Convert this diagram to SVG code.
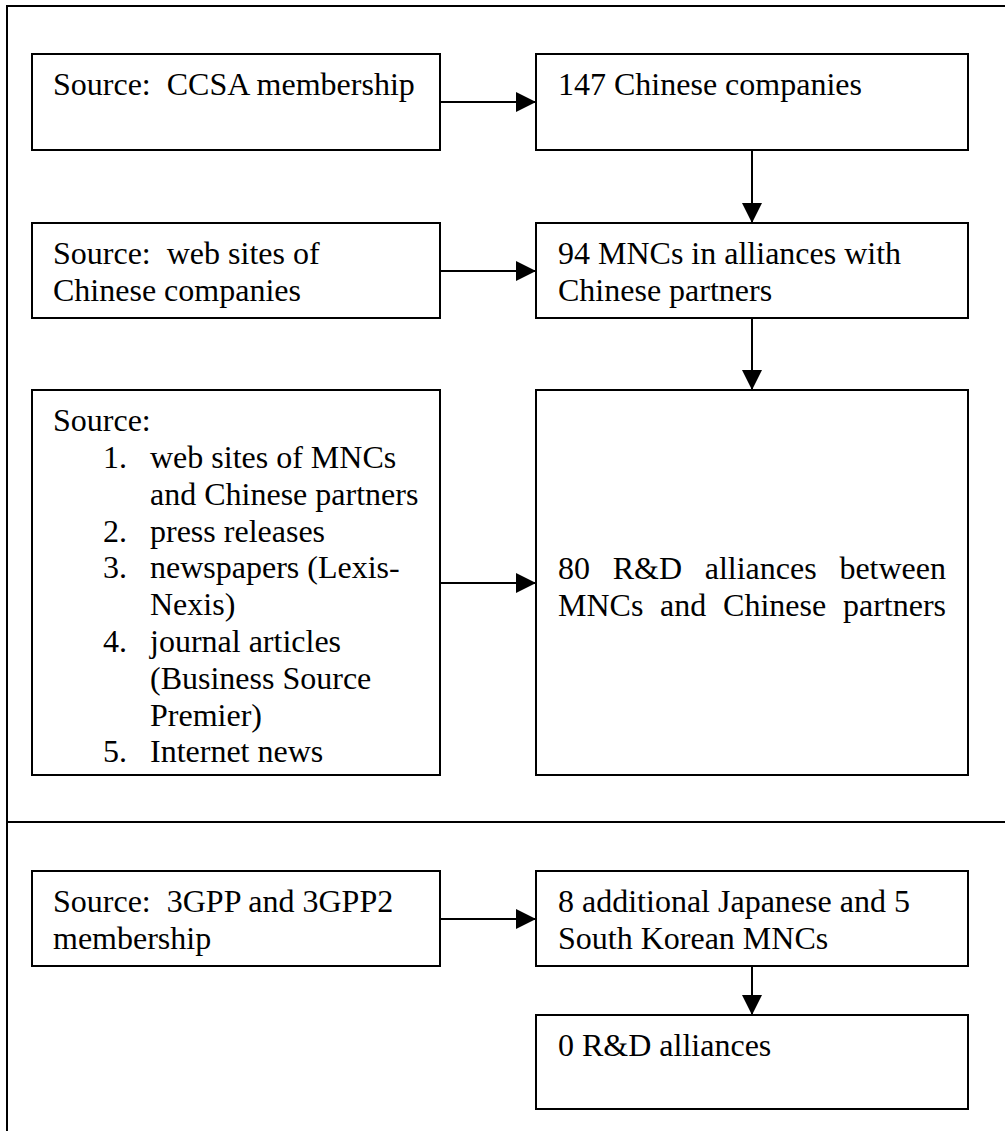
<svg xmlns="http://www.w3.org/2000/svg" width="1005" height="1131" viewBox="0 0 1005 1131">
<style>
.box{fill:#fff;stroke:#000;stroke-width:2}
.frame{fill:none;stroke:#000;stroke-width:2}
.con{stroke:#000;stroke-width:2;fill:none}
text{font-family:"Liberation Serif","Times New Roman",serif;font-size:32px;fill:#000;white-space:pre}
.end{text-anchor:end}
</style>
<defs>
<marker id="ah" markerWidth="20" markerHeight="20" viewBox="0 0 20 20" refX="20" refY="10" orient="auto" markerUnits="userSpaceOnUse">
<path d="M0,0 L20,10 L0,20 Z" fill="#000"/>
</marker>
</defs>
<rect width="1005" height="1131" fill="#fff"/>
<g id="frame">
<path class="frame" d="M7,1131 V6 H1005"/>
<path class="frame" d="M7,822 H1005"/>
</g>
<g id="connectors">
<line class="con" x1="440" y1="102" x2="536" y2="102" marker-end="url(#ah)"/>
<line class="con" x1="440" y1="271" x2="536" y2="271" marker-end="url(#ah)"/>
<line class="con" x1="440" y1="583" x2="536" y2="583" marker-end="url(#ah)"/>
<line class="con" x1="440" y1="919" x2="536" y2="919" marker-end="url(#ah)"/>
<line class="con" x1="752" y1="150" x2="752" y2="223" marker-end="url(#ah)"/>
<line class="con" x1="752" y1="318" x2="752" y2="390" marker-end="url(#ah)"/>
<line class="con" x1="752" y1="966" x2="752" y2="1015" marker-end="url(#ah)"/>
</g>
<g id="src-ccsa">
<rect class="box" x="32" y="54" width="408" height="96"/>
<text x="53" y="95">Source:  CCSA membership</text>
</g>
<g id="chinese-companies">
<rect class="box" x="536" y="54" width="432" height="96"/>
<text x="558" y="95">147 Chinese companies</text>
</g>
<g id="src-web">
<rect class="box" x="32" y="223" width="408" height="95"/>
<text x="53" y="264">Source:  web sites of</text>
<text x="53" y="301">Chinese companies</text>
</g>
<g id="mncs">
<rect class="box" x="536" y="223" width="432" height="95"/>
<text x="558" y="264">94 MNCs in alliances with</text>
<text x="558" y="301">Chinese partners</text>
</g>
<g id="src-list">
<rect class="box" x="32" y="390" width="408" height="385"/>
<text x="53" y="431">Source:</text>
<text x="103" y="468">1.</text><text x="150" y="468">web sites of MNCs</text>
<text x="150" y="505">and Chinese partners</text>
<text x="103" y="542">2.</text><text x="150" y="542">press releases</text>
<text x="103" y="578">3.</text><text x="150" y="578">newspapers (Lexis-</text>
<text x="150" y="615">Nexis)</text>
<text x="103" y="652">4.</text><text x="150" y="652">journal articles</text>
<text x="150" y="689">(Business Source</text>
<text x="150" y="726">Premier)</text>
<text x="103" y="762">5.</text><text x="150" y="762">Internet news</text>
</g>
<g id="rd-alliances">
<rect class="box" x="536" y="390" width="432" height="385"/>
<text y="579"><tspan x="558">80</tspan><tspan x="612.7">R&amp;D</tspan><tspan x="704.7">alliances</tspan></text>
<text class="end" x="946" y="579">between</text>
<text y="616"><tspan x="558">MNCs</tspan><tspan x="660.1">and</tspan><tspan x="723.1">Chinese</tspan></text>
<text class="end" x="946" y="616">partners</text>
</g>
<g id="src-3gpp">
<rect class="box" x="32" y="871" width="408" height="95"/>
<text x="53" y="912">Source:  3GPP and 3GPP2</text>
<text x="53" y="949">membership</text>
</g>
<g id="jp-kr-mncs">
<rect class="box" x="536" y="871" width="432" height="95"/>
<text x="558" y="912">8 additional Japanese and 5</text>
<text x="558" y="949">South Korean MNCs</text>
</g>
<g id="zero-rd">
<rect class="box" x="536" y="1015" width="432" height="94"/>
<text x="558" y="1056">0 R&amp;D alliances</text>
</g>
</svg>
